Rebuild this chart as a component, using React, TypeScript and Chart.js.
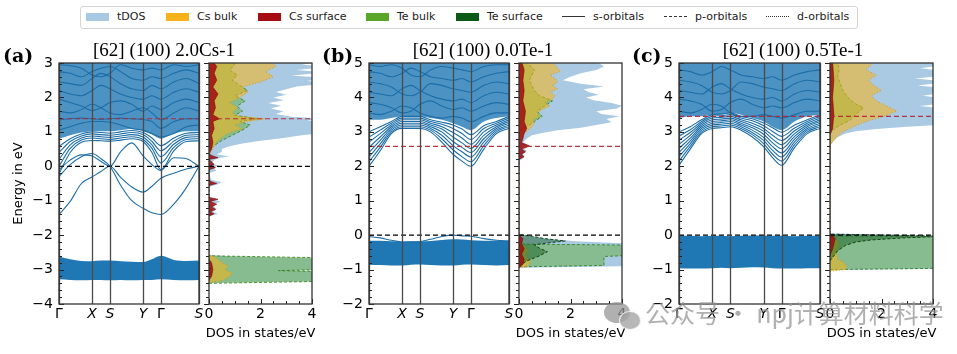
import React, { useEffect, useRef } from 'react';
import { Chart, registerables } from 'chart.js';
Chart.register(...registerables);
Chart.defaults.font.family = 'DejaVu Sans';

// ---------------- data ----------------
const K_POINTS = [0, 0.08, 0.16, 0.236, 0.3, 0.364, 0.44, 0.52, 0.6, 0.664, 0.728, 0.82, 0.91, 1.0];
const HS_K = [0, 0.236, 0.364, 0.6, 0.728, 1.0];
const HS_LABELS = ['Γ', 'X', 'S', 'Y', 'Γ', 'S'];
const DOS_TICKS = [0, 2, 4];
const TITLES = ['[62] (100) 2.0Cs-1', '[62] (100) 0.0Te-1', '[62] (100) 0.5Te-1'];
const PANEL_TAGS = ['(a)', '(b)', '(c)'];
const E_RANGE_A = [-4, 3];
const E_RANGE_B = [-2, 5];
const E_RANGE_C = [-2, 5];
const E_FERMI = [0, 0, 0];
const E_REF = [1.38, 2.58, 3.45];
const LEGEND_LABELS = ['tDOS', 'Cs bulk', 'Cs surface', 'Te bulk', 'Te surface'];
const LEGEND_LINE_LABELS = ['s-orbitals', 'p-orbitals', 'd-orbitals'];
const WATERMARK = '公众号 · npj计算材料科学';

// panel (a) bands
const A_VB_LOW = [-3.28, -3.30, -3.31, -3.30, -3.30, -3.31, -3.30, -3.31, -3.30, -3.30, -3.28, -3.30, -3.31, -3.30];
const A_VB_HIGH = [-2.62, -2.70, -2.75, -2.76, -2.74, -2.74, -2.76, -2.77, -2.78, -2.70, -2.60, -2.72, -2.75, -2.74];
const A_CB_LOW = [0.80, 0.90, 0.98, 1.02, 1.02, 1.02, 1.05, 1.08, 1.02, 0.92, 0.80, 0.95, 1.02, 1.02];
const A_CB_HIGH = [3.3, 3.3, 3.3, 3.3, 3.3, 3.3, 3.3, 3.3, 3.3, 3.3, 3.3, 3.3, 3.3, 3.3];
const A_BAND_1 = [-1.40, -1.02, -0.50, -0.31, -0.15, 0.00, -0.32, -0.60, -0.75, -0.58, -0.35, -0.20, -0.08, 0.00];
const A_BAND_2 = [-0.30, 0.05, 0.28, 0.37, 0.22, 0.00, -0.55, -1.00, -1.22, -1.35, -1.40, -1.10, -0.62, 0.00];
const A_BAND_3 = [-0.10, 0.18, 0.33, 0.30, 0.14, 0.00, 0.42, 0.68, 0.30, 0.05, -0.12, 0.25, 0.22, 0.00];
const A_FAN_1 = [-0.22, 0.40, 0.70, 0.75, 0.74, 0.73, 0.76, 0.80, 0.72, 0.40, -0.10, 0.45, 0.72, 0.74];
const A_FAN_2 = [0.00, 0.52, 0.76, 0.82, 0.80, 0.78, 0.82, 0.86, 0.78, 0.52, 0.10, 0.55, 0.78, 0.80];
const A_FAN_3 = [0.20, 0.62, 0.82, 0.88, 0.86, 0.84, 0.88, 0.92, 0.85, 0.62, 0.28, 0.64, 0.84, 0.86];
const A_FAN_4 = [0.40, 0.72, 0.88, 0.94, 0.92, 0.90, 0.94, 0.98, 0.92, 0.72, 0.45, 0.73, 0.90, 0.92];
const A_FAN_5 = [0.58, 0.80, 0.94, 1.00, 0.98, 0.96, 1.00, 1.04, 0.98, 0.82, 0.60, 0.82, 0.96, 0.98];
const A_CB_1 = [1.05, 1.15, 1.25, 1.30, 1.30, 1.28, 1.20, 1.10, 1.05, 0.95, 0.85, 0.95, 1.15, 1.20];
const A_CB_2 = [1.35, 1.38, 1.40, 1.38, 1.36, 1.38, 1.40, 1.38, 1.36, 1.30, 1.10, 1.30, 1.38, 1.38];
const A_CB_3 = [1.60, 1.55, 1.65, 1.80, 1.70, 1.55, 1.50, 1.60, 1.70, 1.55, 1.35, 1.55, 1.70, 1.60];
const A_CB_4 = [1.95, 1.85, 1.75, 1.62, 1.70, 1.85, 1.90, 1.80, 1.60, 1.75, 1.65, 1.85, 1.95, 1.85];
const A_CB_5 = [2.20, 2.10, 2.05, 2.20, 2.35, 2.25, 2.10, 2.00, 1.95, 2.05, 1.95, 2.15, 2.25, 2.15];
const A_CB_6 = [2.45, 2.40, 2.35, 2.55, 2.70, 2.60, 2.40, 2.25, 2.20, 2.35, 2.25, 2.45, 2.55, 2.40];
const A_CB_7 = [2.75, 2.70, 2.60, 2.75, 2.85, 2.90, 2.75, 2.55, 2.50, 2.60, 2.55, 2.70, 2.80, 2.70];
const A_CB_8 = [2.95, 2.92, 2.85, 2.65, 2.60, 2.70, 2.95, 2.85, 2.80, 2.85, 2.80, 2.95, 2.90, 2.95];

// panel (b) bands
const B_VB_LOW = [-0.86, -0.87, -0.88, -0.88, -0.86, -0.85, -0.87, -0.88, -0.88, -0.86, -0.85, -0.87, -0.88, -0.87];
const B_VB_HIGH = [-0.16, -0.16, -0.18, -0.19, -0.18, -0.18, -0.17, -0.14, -0.12, -0.13, -0.15, -0.16, -0.16, -0.16];
const B_VB_TOP = [-0.04, -0.08, -0.15, -0.20, -0.20, -0.19, -0.12, -0.04, 0.00, -0.02, -0.03, -0.10, -0.15, -0.17];
const B_CB_LOW = [3.35, 3.35, 3.40, 3.45, 3.45, 3.45, 3.40, 3.35, 3.25, 3.15, 3.05, 3.30, 3.40, 3.45];
const B_CB_HIGH = [5.3, 5.3, 5.3, 5.3, 5.3, 5.3, 5.3, 5.3, 5.3, 5.3, 5.3, 5.3, 5.3, 5.3];
const B_BAND_1 = [2.00, 2.45, 2.95, 3.10, 3.10, 3.10, 3.00, 2.70, 2.35, 2.15, 2.00, 2.50, 2.95, 3.10];
const B_BAND_2 = [2.13, 2.55, 3.00, 3.15, 3.15, 3.15, 3.05, 2.80, 2.48, 2.28, 2.13, 2.60, 3.00, 3.15];
const B_BAND_3 = [2.27, 2.65, 3.05, 3.20, 3.20, 3.20, 3.10, 2.90, 2.60, 2.42, 2.27, 2.70, 3.05, 3.20];
const B_BAND_4 = [2.40, 2.75, 3.10, 3.25, 3.25, 3.25, 3.15, 3.00, 2.72, 2.55, 2.40, 2.80, 3.10, 3.25];
const B_BAND_5 = [2.55, 2.85, 3.15, 3.30, 3.30, 3.30, 3.20, 3.08, 2.85, 2.68, 2.52, 2.90, 3.15, 3.30];
const B_BAND_6 = [2.70, 2.95, 3.20, 3.35, 3.35, 3.35, 3.25, 3.15, 2.98, 2.82, 2.64, 3.00, 3.20, 3.35];
const B_BAND_7 = [2.85, 3.05, 3.25, 3.40, 3.40, 3.40, 3.30, 3.22, 3.10, 2.95, 2.78, 3.10, 3.25, 3.40];
const B_BAND_8 = [3.00, 3.15, 3.30, 3.45, 3.45, 3.45, 3.35, 3.28, 3.20, 3.08, 2.92, 3.18, 3.30, 3.45];
const B_CB_1 = [3.55, 3.50, 3.60, 3.75, 3.70, 3.55, 3.45, 3.40, 3.45, 3.40, 3.30, 3.45, 3.55, 3.55];
const B_CB_2 = [3.85, 3.80, 3.70, 3.55, 3.60, 3.80, 3.90, 3.75, 3.65, 3.70, 3.60, 3.75, 3.85, 3.80];
const B_CB_3 = [4.15, 4.10, 4.05, 4.25, 4.35, 4.20, 4.05, 3.95, 3.90, 3.95, 3.85, 4.05, 4.15, 4.10];
const B_CB_4 = [4.45, 4.40, 4.30, 4.10, 4.05, 4.15, 4.40, 4.35, 4.25, 4.20, 4.15, 4.35, 4.45, 4.40];
const B_CB_5 = [4.75, 4.70, 4.60, 4.70, 4.85, 4.75, 4.60, 4.55, 4.50, 4.55, 4.45, 4.60, 4.70, 4.75];
const B_CB_6 = [4.95, 4.90, 4.95, 4.85, 4.65, 4.60, 4.80, 4.90, 4.85, 4.80, 4.75, 4.90, 4.95, 4.95];

// panel (c) bands
const C_VB_LOW = [-0.96, -0.97, -0.97, -0.96, -0.95, -0.96, -0.95, -0.93, -0.94, -0.96, -0.97, -0.97, -0.96, -0.96];
const C_VB_HIGH = [-0.01, -0.02, -0.03, -0.02, -0.02, -0.03, -0.02, -0.01, -0.01, -0.02, -0.02, -0.03, -0.02, -0.02];
const C_CB_LOW = [3.40, 3.45, 3.45, 3.50, 3.50, 3.55, 3.50, 3.40, 3.30, 3.15, 3.05, 3.30, 3.45, 3.50];
const C_CB_HIGH = [5.3, 5.3, 5.3, 5.3, 5.3, 5.3, 5.3, 5.3, 5.3, 5.3, 5.3, 5.3, 5.3, 5.3];
const C_BAND_1 = [2.03, 2.50, 2.95, 3.10, 3.12, 3.15, 3.05, 2.85, 2.57, 2.25, 2.03, 2.55, 2.95, 3.10];
const C_BAND_2 = [2.15, 2.58, 3.00, 3.15, 3.17, 3.20, 3.10, 2.92, 2.66, 2.35, 2.15, 2.63, 3.00, 3.15];
const C_BAND_3 = [2.28, 2.66, 3.05, 3.20, 3.22, 3.25, 3.15, 2.98, 2.75, 2.46, 2.27, 2.71, 3.05, 3.20];
const C_BAND_4 = [2.40, 2.74, 3.10, 3.25, 3.27, 3.30, 3.20, 3.05, 2.84, 2.57, 2.39, 2.79, 3.10, 3.25];
const C_BAND_5 = [2.52, 2.82, 3.15, 3.30, 3.32, 3.35, 3.25, 3.12, 2.93, 2.68, 2.51, 2.87, 3.15, 3.30];
const C_BAND_6 = [2.64, 2.90, 3.20, 3.35, 3.37, 3.40, 3.30, 3.18, 3.02, 2.79, 2.63, 2.95, 3.20, 3.35];
const C_BAND_7 = [2.76, 2.98, 3.25, 3.40, 3.42, 3.45, 3.35, 3.25, 3.10, 2.90, 2.75, 3.03, 3.25, 3.40];
const C_BAND_8 = [2.88, 3.06, 3.30, 3.45, 3.47, 3.50, 3.40, 3.32, 3.18, 3.01, 2.87, 3.11, 3.30, 3.45];
const C_BAND_9 = [3.00, 3.15, 3.35, 3.50, 3.52, 3.55, 3.45, 3.38, 3.26, 3.12, 2.99, 3.20, 3.35, 3.50];
const C_CB_1 = [3.60, 3.55, 3.65, 3.80, 3.75, 3.55, 3.45, 3.45, 3.50, 3.45, 3.40, 3.50, 3.60, 3.60];
const C_CB_2 = [3.95, 3.90, 3.80, 3.60, 3.65, 3.85, 3.95, 3.80, 3.70, 3.75, 3.70, 3.85, 3.95, 3.90];
const C_CB_3 = [4.20, 4.15, 4.10, 4.30, 4.40, 4.25, 4.10, 4.00, 3.95, 4.00, 3.90, 4.10, 4.20, 4.15];
const C_CB_4 = [4.50, 4.45, 4.35, 4.15, 4.10, 4.20, 4.45, 4.40, 4.30, 4.25, 4.20, 4.40, 4.50, 4.45];
const C_CB_5 = [4.80, 4.75, 4.65, 4.75, 4.90, 4.80, 4.65, 4.60, 4.55, 4.60, 4.50, 4.65, 4.75, 4.80];

// panel (a) DOS
const A_TDOS_E = [-3.38, -3.33, -3.06, -3.03, -3.00, -2.68, -2.62, -2.58, -1.45, -1.38, -1.32, -1.25, -1.10, -1.03, -0.97, -0.90, -0.60, -0.52, -0.46, -0.40, -0.20, -0.12, -0.05, 0.02, 0.08, 0.18, 0.25, 0.29, 0.34, 0.42, 0.50, 0.58, 0.66, 0.74, 0.82, 0.90, 0.98, 1.05, 1.12, 1.20, 1.27, 1.33, 1.38, 1.44, 1.52, 1.60, 1.68, 1.76, 1.84, 1.92, 2.00, 2.08, 2.16, 2.24, 2.32, 2.40, 2.48, 2.56, 2.64, 2.72, 2.80, 2.88, 2.96, 3.05];
const A_TDOS_V = [0, 4.6, 4.6, 2.7, 4.6, 4.6, 1.0, 0, 0, 0.35, 0.15, 0.3, 0.12, 0.45, 0.2, 0, 0, 0.35, 0.5, 0.1, 0, 0.3, 0.15, 0.35, 0.1, 0.2, 0.45, 0.8, 0.3, 0.5, 0.5, 0.8, 1.3, 2.0, 2.9, 3.6, 4.6, 4.6, 4.0, 4.6, 4.6, 3.8, 4.6, 3.2, 2.6, 2.9, 2.4, 2.8, 2.3, 2.9, 2.5, 3.0, 2.6, 3.0, 3.4, 4.6, 3.8, 4.6, 3.2, 4.6, 3.4, 4.6, 3.6, 4.6];
const A_CSB_E = [-3.38, -3.32, -3.2, -3.1, -3.0, -2.9, -2.8, -2.7, -2.62, -2.58, 0.3, 0.45, 0.6, 0.75, 0.9, 1.0, 1.1, 1.2, 1.3, 1.38, 1.45, 1.55, 1.7, 1.85, 2.0, 2.15, 2.3, 2.45, 2.6, 2.75, 2.9, 3.05];
const A_CSB_V = [0, 0.5, 0.8, 0.9, 0.6, 0.75, 0.5, 0.35, 0.2, 0, 0, 0.1, 0.2, 0.35, 0.6, 0.9, 1.3, 1.0, 1.5, 2.2, 1.2, 0.9, 1.1, 0.8, 1.2, 1.5, 1.3, 2.0, 2.5, 2.2, 2.6, 2.4];
const A_TEB_E = [-3.40, -3.34, -3.06, -3.03, -3.00, -2.66, -2.60, 0.45, 0.6, 0.75, 0.9, 1.05, 1.2, 1.3, 1.38, 1.48, 1.6, 1.75, 1.9, 2.05, 2.2, 2.35, 2.5, 2.65, 2.8, 2.95, 3.05];
const A_TEB_V = [0, 4.6, 4.6, 2.7, 4.6, 4.6, 0, 0, 0.2, 0.5, 0.9, 1.3, 1.6, 1.2, 1.9, 1.0, 1.3, 1.1, 1.4, 1.0, 1.5, 1.2, 0.9, 1.1, 0.8, 1.0, 0.9];
const A_CSS_E = [-3.3, -3.2, -3.0, -2.8, -2.7, -1.45, -1.38, -1.33, -1.25, -1.18, -1.10, -1.02, -0.96, -0.90, -0.56, -0.50, -0.45, -0.40, -0.10, -0.04, 0.02, 0.06, 0.20, 0.25, 0.30, 0.36, 0.5, 0.7, 0.9, 1.1, 1.3, 1.38, 1.5, 1.7, 1.9, 2.1, 2.3, 2.5, 2.7, 2.9, 3.05];
const A_CSS_V = [0, 0.1, 0.15, 0.1, 0, 0, 0.2, 0.05, 0.25, 0.1, 0.3, 0.05, 0.35, 0, 0, 0.3, 0.1, 0, 0, 0.25, 0.1, 0.2, 0, 0.35, 0.15, 0, 0.1, 0.15, 0.1, 0.2, 0.15, 0.4, 0.15, 0.25, 0.2, 0.35, 0.15, 0.3, 0.2, 0.3, 0.15];
const A_TES_E = [-3.3, -3.0, -2.7];
const A_TES_V = [0, 0.05, 0];

// panel (b) DOS
const B_TDOS_E = [-0.95, -0.90, -0.80, -0.70, -0.60, -0.50, -0.40, -0.30, -0.25, -0.18, -0.10, -0.03, 0.02, 2.15, 2.25, 2.35, 2.45, 2.55, 2.62, 2.70, 2.80, 2.90, 2.97, 3.05, 3.12, 3.20, 3.28, 3.37, 3.45, 3.52, 3.60, 3.68, 3.76, 3.84, 3.92, 4.00, 4.08, 4.16, 4.24, 4.32, 4.40, 4.50, 4.60, 4.70, 4.80, 4.90, 5.05];
const B_TDOS_V = [0, 4.6, 4.6, 4.6, 4.6, 4.6, 4.6, 4.6, 4.6, 2.2, 1.0, 0.4, 0, 0, 0.2, 0.15, 0.3, 0.1, 0.35, 0.15, 0.3, 0.5, 0.9, 1.5, 2.4, 3.0, 3.6, 3.4, 3.9, 3.2, 3.0, 3.8, 4.0, 3.6, 2.9, 2.6, 3.1, 2.7, 2.5, 3.3, 2.4, 1.7, 2.0, 2.4, 3.0, 3.3, 3.0];
const B_CSB_E = [-0.95, -0.90, -0.75, -0.60, -0.45, -0.30, -0.20, -0.1, 2.8, 2.95, 3.05, 3.15, 3.25, 3.35, 3.45, 3.55, 3.65, 3.75, 3.85, 3.95, 4.05, 4.15, 4.25, 4.35, 4.45, 4.55, 4.65, 4.75, 4.85, 4.95, 5.05];
const B_CSB_V = [0, 0.35, 0.45, 0.25, 0.35, 0.2, 0.1, 0, 0, 0.2, 0.35, 0.5, 0.6, 0.55, 0.8, 0.7, 0.9, 1.2, 1.0, 1.3, 1.4, 1.2, 1.5, 1.3, 1.5, 1.4, 1.2, 1.6, 1.5, 1.4, 1.3];
const B_TEB_E = [-0.92, -0.88, -0.62, -0.58, -0.29, -0.26, 3.0, 3.15, 3.3, 3.45, 3.6, 3.75, 3.9, 4.05, 4.2, 4.35, 4.5, 4.65, 4.8, 4.95, 5.05];
const B_TEB_V = [0, 3.3, 3.3, 4.6, 4.6, 0, 0, 0.3, 0.6, 0.9, 0.7, 1.0, 1.3, 0.8, 0.6, 0.5, 0.4, 0.5, 0.6, 0.4, 0.3];
const B_TES_E = [-0.90, -0.75, -0.60, -0.48, -0.38, -0.28, -0.22, -0.17, -0.10, -0.03, 0.02];
const B_TES_V = [0, 0.3, 0.8, 1.1, 0.8, 0.6, 1.2, 1.8, 1.0, 0.5, 0];
const B_CSS_E = [-0.95, -0.85, -0.7, -0.55, -0.4, -0.25, -0.1, 0.0, 2.2, 2.28, 2.35, 2.42, 2.5, 2.55, 2.6, 2.68, 2.8, 2.95, 3.1, 3.3, 3.6, 3.9, 4.2, 4.5, 4.8, 5.05];
const B_CSS_V = [0, 0.15, 0.2, 0.1, 0.2, 0.1, 0.15, 0, 0, 0.2, 0.1, 0.25, 0.1, 0.3, 0.4, 0.1, 0.15, 0.2, 0.3, 0.2, 0.25, 0.15, 0.2, 0.15, 0.2, 0.1];

// panel (c) DOS
const C_TDOS_E = [-1.02, -0.97, -0.5, -0.05, 0.02, 0.05, 2.6, 2.75, 2.85, 2.95, 3.02, 3.08, 3.15, 3.22, 3.35, 3.45, 3.55, 3.65, 3.75, 3.85, 3.95, 4.05, 4.15, 4.25, 4.35, 4.45, 4.55, 4.65, 4.75, 4.85, 4.95, 5.05];
const C_TDOS_V = [0, 4.6, 4.6, 4.6, 2.0, 0, 0, 0.15, 0.3, 0.6, 1.0, 1.8, 3.0, 4.6, 4.6, 4.6, 4.6, 4.6, 3.5, 4.6, 4.6, 3.6, 4.6, 4.6, 3.4, 4.6, 3.3, 4.6, 4.6, 3.5, 4.6, 4.6];
const C_CSB_E = [-1.05, -1.0, -0.9, -0.8, -0.7, -0.5, -0.3, -0.15, -0.05, 2.6, 2.8, 3.0, 3.15, 3.3, 3.45, 3.6, 3.75, 3.9, 4.05, 4.2, 4.35, 4.5, 4.65, 4.8, 4.95, 5.05];
const C_CSB_V = [0, 0.6, 0.65, 0.55, 0.3, 0.25, 0.35, 0.3, 0, 0, 0.2, 0.5, 0.9, 1.4, 2.1, 2.6, 2.2, 1.8, 1.6, 2.0, 1.7, 1.5, 1.8, 1.4, 1.6, 1.5];
const C_TEB_E = [-1.0, -0.96, -0.05, -0.02, 3.0, 3.2, 3.35, 3.5, 3.7, 3.85, 4.0, 4.2, 4.4, 4.6, 4.8, 5.05];
const C_TEB_V = [0, 4.6, 4.6, 0, 0, 0.4, 0.8, 1.0, 1.3, 0.9, 0.7, 0.5, 0.4, 0.3, 0.35, 0.3];
const C_TES_E = [-0.75, -0.6, -0.45, -0.3, -0.2, -0.14, -0.08, -0.03, 0.03];
const C_TES_V = [0, 0.15, 0.3, 0.6, 1.0, 1.6, 2.8, 4.6, 0];
const C_CSS_E = [-0.6, -0.4, -0.25, -0.1, 0.0, 0.05, 2.9, 3.1, 3.5, 4.0, 4.5, 5.05];
const C_CSS_V = [0, 0.1, 0.15, 0.2, 0.1, 0, 0, 0.1, 0.15, 0.1, 0.15, 0.1];

// ---------------- panel tables ----------------
const PANELS = [
  {
    range: E_RANGE_A, fermi: E_FERMI[0], ref: E_REF[0], title: TITLES[0], tag: PANEL_TAGS[0], yLabel: true,
    solid: [[A_VB_LOW, A_VB_HIGH]], dense: [[A_CB_LOW, A_CB_HIGH]],
    bands: [A_CB_1, A_CB_2, A_CB_3, A_CB_4, A_CB_5, A_CB_6, A_CB_7, A_CB_8, A_FAN_1, A_FAN_2, A_FAN_3, A_FAN_4, A_FAN_5, A_BAND_1, A_BAND_2, A_BAND_3],
    dos: { tdos: [A_TDOS_E, A_TDOS_V], teb: [A_TEB_E, A_TEB_V], csb: [A_CSB_E, A_CSB_V], tes: [A_TES_E, A_TES_V], css: [A_CSS_E, A_CSS_V] },
  },
  {
    range: E_RANGE_B, fermi: E_FERMI[1], ref: E_REF[1], title: TITLES[1], tag: PANEL_TAGS[1], yLabel: false,
    solid: [[B_VB_LOW, B_VB_HIGH]], dense: [[B_CB_LOW, B_CB_HIGH]],
    bands: [B_CB_1, B_CB_2, B_CB_3, B_CB_4, B_CB_5, B_CB_6, B_BAND_1, B_BAND_2, B_BAND_3, B_BAND_4, B_BAND_5, B_BAND_6, B_BAND_7, B_BAND_8, B_VB_TOP],
    dos: { tdos: [B_TDOS_E, B_TDOS_V], teb: [B_TEB_E, B_TEB_V], csb: [B_CSB_E, B_CSB_V], tes: [B_TES_E, B_TES_V], css: [B_CSS_E, B_CSS_V] },
  },
  {
    range: E_RANGE_C, fermi: E_FERMI[2], ref: E_REF[2], title: TITLES[2], tag: PANEL_TAGS[2], yLabel: false,
    solid: [[C_VB_LOW, C_VB_HIGH]], dense: [[C_CB_LOW, C_CB_HIGH]],
    bands: [C_CB_1, C_CB_2, C_CB_3, C_CB_4, C_CB_5, C_BAND_1, C_BAND_2, C_BAND_3, C_BAND_4, C_BAND_5, C_BAND_6, C_BAND_7, C_BAND_8, C_BAND_9],
    dos: { tdos: [C_TDOS_E, C_TDOS_V], teb: [C_TEB_E, C_TEB_V], csb: [C_CSB_E, C_CSB_V], tes: [C_TES_E, C_TES_V], css: [C_CSS_E, C_CSS_V] },
  },
];

// ---------------- layout ----------------
const LAYOUT = [
  { bandLeft: 59, bandW: 140, dosLeft: 209, titleX: 164, tagX: 3 },
  { bandLeft: 369, bandW: 140, dosLeft: 519, titleX: 483, tagX: 322 },
  { bandLeft: 679, bandW: 141, dosLeft: 830, titleX: 793, tagX: 632 },
];
const PLOT_TOP = 63;
const PLOT_BOTTOM = 304;
const CANVAS_TOP = 55;
const CANVAS_H = 299;
const DOS_W = 103;
const Y_AXIS_W = 59;
const X_AXIS_H = CANVAS_H - (PLOT_TOP - CANVAS_TOP) - (PLOT_BOTTOM - PLOT_TOP);

const SPECIES_STYLE: Record<string, any> = {
  tdos: { bg: 'rgb(170,202,228)', border: 'rgba(0,0,0,0)', dash: [], width: 0, order: 50 },
  teb: { bg: 'rgba(92,170,40,0.45)', border: 'rgba(45,125,20,0.9)', dash: [3, 2], width: 0.9, order: 40 },
  csb: { bg: 'rgba(247,178,20,0.55)', border: 'rgba(215,140,0,0.85)', dash: [1, 2], width: 0.9, order: 30 },
  tes: { bg: 'rgba(10,85,20,0.45)', border: 'rgba(10,55,10,0.9)', dash: [3, 2], width: 1, order: 20 },
  css: { bg: 'rgba(160,10,12,0.85)', border: 'rgba(120,0,0,0.9)', dash: [], width: 0.6, order: 10 },
};
const LEGEND_COLORS = ['#a8c9e3', '#f7b21a', '#a50d12', '#5aa62a', '#0b5a16'];
const LEGEND_PATCH_X = [86, 166, 258, 366, 456];
const LEGEND_LINE_X = [562, 664, 766];
const LEGEND_LINE_STYLE = ['solid', 'dashed', 'dotted'];

const TICK_FONT = { family: 'DejaVu Sans', size: 14 };
const fmtNum = (v: number) => (v < 0 ? '\u2212' + Math.abs(v) : String(v));

function refLine(x0: number, x1: number, e: number, color: string) {
  return {
    data: [{ x: x0, y: e }, { x: x1, y: e }],
    borderColor: color, borderWidth: 1.2, borderDash: [5, 3], pointRadius: 0, fill: false, order: 0,
  };
}

function decorPlugin(kind: 'band' | 'dos') {
  return {
    id: 'decor' + kind,
    afterDatasetsDraw(chart: any) {
      const { ctx, chartArea: a, scales } = chart;
      const ys = scales.y;
      const xs = scales.x;
      ctx.save();
      if (kind === 'band') {
        ctx.strokeStyle = '#4a4a4a';
        ctx.lineWidth = 1.3;
        HS_K.forEach((k) => {
          const px = Math.round(xs.getPixelForValue(k)) + 0.5;
          ctx.beginPath(); ctx.moveTo(px, a.top); ctx.lineTo(px, a.bottom); ctx.stroke();
        });
      }
      ctx.strokeStyle = '#222';
      ctx.lineWidth = 1;
      const n = Math.round((ys.max - ys.min) / 0.2);
      for (let i = 0; i <= n; i++) {
        const v = ys.min + i * 0.2;
        const major = i % 5 === 0;
        const py = Math.round(ys.getPixelForValue(v)) + 0.5;
        const len = major ? 5 : 3;
        ctx.beginPath();
        if (kind === 'band') { ctx.moveTo(a.left, py); ctx.lineTo(a.left + len, py); }
        else { ctx.moveTo(a.left - len, py); ctx.lineTo(a.left, py); }
        ctx.stroke();
      }
      if (kind === 'dos') {
        const m = Math.round((xs.max - xs.min) / 0.5);
        for (let i = 0; i <= m; i++) {
          const v = xs.min + i * 0.5;
          const major = i % 4 === 0;
          const px = Math.round(xs.getPixelForValue(v)) + 0.5;
          const len = major ? 5 : 3;
          ctx.beginPath(); ctx.moveTo(px, a.bottom); ctx.lineTo(px, a.bottom - len); ctx.stroke();
        }
      }
      ctx.strokeStyle = '#333';
      ctx.lineWidth = 1.3;
      ctx.strokeRect(a.left, a.top, a.right - a.left, a.bottom - a.top);
      ctx.restore();
    },
  };
}

function bandConfig(p: any, lay: any, canvasW: number) {
  const pts = (vals: number[]) => K_POINTS.map((k, i) => ({ x: k, y: vals[i] }));
  const datasets: any[] = [];
  const addFill = (low: number[], high: number[], color: string) => {
    datasets.push({ data: pts(low), borderWidth: 0, borderColor: 'rgba(0,0,0,0)', pointRadius: 0, fill: false, order: 20, cubicInterpolationMode: 'monotone' });
    datasets.push({ data: pts(high), borderWidth: 0, borderColor: 'rgba(0,0,0,0)', backgroundColor: color, pointRadius: 0, fill: '-1', order: 20, cubicInterpolationMode: 'monotone' });
  };
  p.solid.forEach(([l, h]: any) => addFill(l, h, '#1f77b4'));
  p.dense.forEach(([l, h]: any) => addFill(l, h, 'rgba(31,119,180,0.8)'));
  p.bands.forEach((b: number[]) => datasets.push({ data: pts(b), borderColor: '#1c6ea8', borderWidth: 1.1, pointRadius: 0, fill: false, order: 10, cubicInterpolationMode: 'monotone' }));
  datasets.push(refLine(0, 1, p.fermi, '#000'));
  datasets.push(refLine(0, 1, p.ref, 'rgba(178,34,52,0.9)'));
  return {
    type: 'line',
    data: { datasets },
    options: {
      animation: false, responsive: false, events: [],
      layout: { padding: { left: 0, right: canvasW - Y_AXIS_W - lay.bandW, top: PLOT_TOP - CANVAS_TOP, bottom: 0 } },
      plugins: { legend: { display: false }, tooltip: { enabled: false } },
      scales: {
        x: {
          type: 'linear', min: 0, max: 1,
          afterBuildTicks: (s: any) => { s.ticks = HS_K.map((v) => ({ value: v })); },
          ticks: {
            autoSkip: false, maxRotation: 0, minRotation: 0, padding: 2, color: '#000',
            font: (ctx: any) => ({ family: 'DejaVu Sans', size: 14, style: HS_LABELS[ctx.index] === 'Γ' ? 'normal' : 'italic' }),
            callback: (_v: any, i: number) => HS_LABELS[i],
          },
          grid: { display: false, drawTicks: false },
          border: { display: false },
          afterFit: (s: any) => { s.height = X_AXIS_H; s.paddingLeft = 0; s.paddingRight = 0; },
        },
        y: {
          type: 'linear', min: p.range[0], max: p.range[1],
          ticks: { stepSize: 1, padding: 6, color: '#000', font: TICK_FONT, callback: (v: number) => fmtNum(v) },
          grid: { display: false, drawTicks: false },
          border: { display: false },
          title: { display: p.yLabel, text: 'Energy in eV', color: '#000', font: { family: 'DejaVu Sans', size: 13 }, padding: { top: 11, bottom: 0 } },
          afterFit: (s: any) => { s.width = Y_AXIS_W; s.paddingTop = 0; s.paddingBottom = 0; },
        },
      },
    },
    plugins: [decorPlugin('band')],
  };
}

function dosConfig(p: any, canvasW: number) {
  const shape = (key: string) => {
    const [E, V] = p.dos[key];
    const st = SPECIES_STYLE[key];
    const data = [{ x: 0, y: E[0] }, ...E.map((e: number, i: number) => ({ x: V[i], y: e })), { x: 0, y: E[E.length - 1] }];
    return { data, backgroundColor: st.bg, borderColor: st.border, borderWidth: st.width, borderDash: st.dash, pointRadius: 0, tension: 0, fill: 'shape', order: st.order };
  };
  const datasets = ['tdos', 'teb', 'csb', 'tes', 'css'].map(shape);
  datasets.push(refLine(0, 4, p.fermi, '#000') as any);
  datasets.push(refLine(0, 4, p.ref, 'rgba(178,34,52,0.9)') as any);
  return {
    type: 'line',
    data: { datasets },
    options: {
      animation: false, responsive: false, events: [],
      layout: { padding: { left: 9, right: canvasW - 9 - DOS_W, top: PLOT_TOP - CANVAS_TOP, bottom: 0 } },
      plugins: { legend: { display: false }, tooltip: { enabled: false } },
      scales: {
        x: {
          type: 'linear', min: 0, max: 4,
          afterBuildTicks: (s: any) => { s.ticks = DOS_TICKS.map((v) => ({ value: v })); },
          ticks: { autoSkip: false, maxRotation: 0, padding: 2, color: '#000', font: TICK_FONT, callback: (v: number) => fmtNum(v) },
          grid: { display: false, drawTicks: false },
          border: { display: false },
          afterFit: (s: any) => { s.height = X_AXIS_H; s.paddingLeft = 0; s.paddingRight = 0; },
        },
        y: { type: 'linear', display: false, min: p.range[0], max: p.range[1] },
      },
    },
    plugins: [decorPlugin('dos')],
  };
}

function ChartBox({ left, top, width, height, make }: any) {
  const ref = useRef<HTMLCanvasElement>(null);
  useEffect(() => {
    const chart = new Chart(ref.current as HTMLCanvasElement, make() as any);
    return () => chart.destroy();
  }, []);
  return (
    <div style={{ position: 'absolute', left, top, width, height }}>
      <canvas ref={ref} width={width} height={height} style={{ display: 'block', width, height }} />
    </div>
  );
}

export default function App() {
  return (
    <div style={{ position: 'fixed', left: 0, top: 0, width: 957, height: 354, background: '#fff', overflow: 'hidden', fontFamily: 'DejaVu Sans' }}>
      {/* legend */}
      <div style={{ position: 'absolute', left: 80, top: 6, width: 776, height: 21, border: '1px solid #d4d4d4', borderRadius: 3, background: '#fff' }} />
      {LEGEND_LABELS.map((lab, i) => (
        <React.Fragment key={lab}>
          <div style={{ position: 'absolute', left: LEGEND_PATCH_X[i], top: 13, width: 23, height: 8, background: LEGEND_COLORS[i] }} />
          <div style={{ position: 'absolute', left: LEGEND_PATCH_X[i] + 31, top: 10, fontSize: 11, lineHeight: '13px', color: '#222', whiteSpace: 'nowrap' }}>{lab}</div>
        </React.Fragment>
      ))}
      {LEGEND_LINE_LABELS.map((lab, i) => (
        <React.Fragment key={lab}>
          <div style={{ position: 'absolute', left: LEGEND_LINE_X[i], top: 16, width: 23, height: 0, borderTop: `1px ${LEGEND_LINE_STYLE[i]} #333` }} />
          <div style={{ position: 'absolute', left: LEGEND_LINE_X[i] + 31, top: 10, fontSize: 11, lineHeight: '13px', color: '#222', whiteSpace: 'nowrap' }}>{lab}</div>
        </React.Fragment>
      ))}

      {PANELS.map((p, i) => {
        const lay = LAYOUT[i];
        const bandCanvasW = Y_AXIS_W + lay.bandW + 11;
        const dosCanvasW = 9 + DOS_W + 20;
        return (
          <React.Fragment key={i}>
            <ChartBox left={lay.bandLeft - Y_AXIS_W} top={CANVAS_TOP} width={bandCanvasW} height={CANVAS_H} make={() => bandConfig(p, lay, bandCanvasW)} />
            <ChartBox left={lay.dosLeft - 9} top={CANVAS_TOP} width={dosCanvasW} height={CANVAS_H} make={() => dosConfig(p, dosCanvasW)} />
            <div style={{ position: 'absolute', left: lay.titleX - 150, top: 38, width: 300, textAlign: 'center', fontFamily: 'Liberation Serif', fontSize: 19, lineHeight: '24px', color: '#000', whiteSpace: 'nowrap' }}>{p.title}</div>
            <div style={{ position: 'absolute', left: lay.tagX, top: 44, fontFamily: 'DejaVu Serif', fontWeight: 'bold', fontSize: 19, lineHeight: '22px', color: '#000' }}>{p.tag}</div>
            <div style={{ position: 'absolute', left: lay.dosLeft + DOS_W / 2 - 80, top: 325, width: 160, textAlign: 'center', fontFamily: 'DejaVu Sans', fontSize: 13, lineHeight: '16px', color: '#000', whiteSpace: 'nowrap' }}>DOS in states/eV</div>
          </React.Fragment>
        );
      })}

      {/* watermark */}
      <div style={{ position: 'absolute', left: 604, top: 302, width: 26, height: 21, borderRadius: '50%', background: 'rgba(150,150,150,0.75)' }} />
      <div style={{ position: 'absolute', left: 619, top: 311, width: 20, height: 17, borderRadius: '50%', background: 'rgba(165,165,165,0.8)', border: '1px solid rgba(255,255,255,0.8)' }} />
      <div style={{ position: 'absolute', left: 645, top: 296, fontFamily: 'Noto Sans CJK SC', fontSize: 25, lineHeight: '32px', color: 'rgba(150,150,150,0.75)', whiteSpace: 'nowrap' }}>{WATERMARK}</div>
    </div>
  );
}
